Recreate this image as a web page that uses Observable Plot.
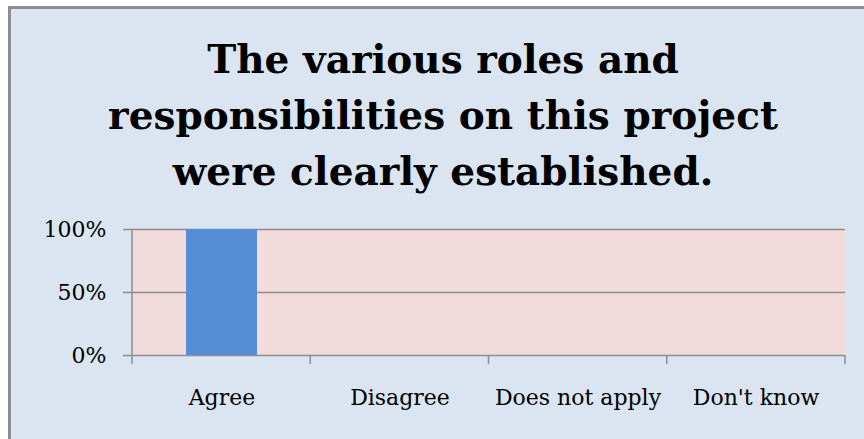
<!DOCTYPE html>
<html>
<head>
<meta charset="utf-8">
<script src="https://cdn.jsdelivr.net/npm/d3@7"></script>
<script src="https://cdn.jsdelivr.net/npm/@observablehq/plot@0.6"></script>
<style>
  html, body { margin: 0; padding: 0; background: #ffffff; }
  body { width: 864px; height: 439px; overflow: hidden; position: relative; }
  #frame { position: absolute; left: 8px; top: 6px; width: 882px; height: 460px;
           box-sizing: border-box; border: 3px solid #8e8e8e; background: #dbe5f1; }
  #title { position: absolute; left: 0; top: 31px; width: 886px; text-align: center;
           font-family: "DejaVu Serif", serif; font-weight: bold; font-size: 39px;
           line-height: 56px; color: #000; }
  #chart { position: absolute; left: 0; top: 210px; }
</style>
</head>
<body>
<div id="frame"></div>
<div id="title"></div>
<div id="chart"></div>
<script>
const titleLines = ["The various roles and", "responsibilities on this project", "were clearly established."];
const categories = ["Agree", "Disagree", "Does not apply", "Don't know"];
const values = [1, 0, 0, 0];
const yTicks = [0, 0.5, 1];

const titleEl = document.getElementById("title");
titleEl.innerHTML = titleLines.map(t => `<div>${t}</div>`).join("");

const data = categories.map((c, i) => ({category: c, value: values[i]}));
const gray = "#8c8c8c";
const font = "DejaVu Serif, serif";

const boundaryTicks = (index, scales, vals, dims) => {
  const g = d3.create("svg:g").attr("stroke", gray).attr("stroke-width", 1.5);
  const {width, height, marginLeft, marginRight, marginTop, marginBottom} = dims;
  const n = categories.length;
  const step = (width - marginLeft - marginRight) / n;
  const y0 = height - marginBottom;
  for (let i = 0; i <= n; i++) {
    const x = marginLeft + i * step;
    g.append("line").attr("x1", x).attr("x2", x)
      .attr("y1", i === 0 ? marginTop : y0).attr("y2", y0 + 9);
  }
  return g.node();
};

const chart = Plot.plot({
  width: 864,
  height: 229,
  marginLeft: 132,
  marginRight: 19,
  marginTop: 19,
  marginBottom: 84,
  style: {background: "transparent", fontFamily: font, fontSize: "22px", color: "#000"},
  x: {type: "band", domain: categories, paddingInner: 0.6, paddingOuter: 0.3, axis: null},
  y: {domain: [0, 1], axis: null},
  marks: [
    Plot.frame({fill: "#f2dcdb", stroke: "none"}),
    Plot.ruleY(yTicks, {stroke: gray, strokeWidth: 1.5}),
    Plot.barY(data, {x: "category", y: "value", fill: "#558ed5"}),
    Plot.ruleY(yTicks.slice(1), {stroke: gray, strokeWidth: 1.5, strokeOpacity: 0}),
    Plot.axisY({ticks: yTicks, tickFormat: d3.format(".0%"), tickSize: 9, tickPadding: 17,
                stroke: gray, strokeWidth: 1.5, fill: "#000", fontSize: 22, label: null}),
    Plot.axisX({tickSize: 0, tickPadding: 34, fill: "#000", fontSize: 22, label: null}),
    boundaryTicks
  ]
});
document.getElementById("chart").appendChild(chart);
</script>
</body>
</html>
